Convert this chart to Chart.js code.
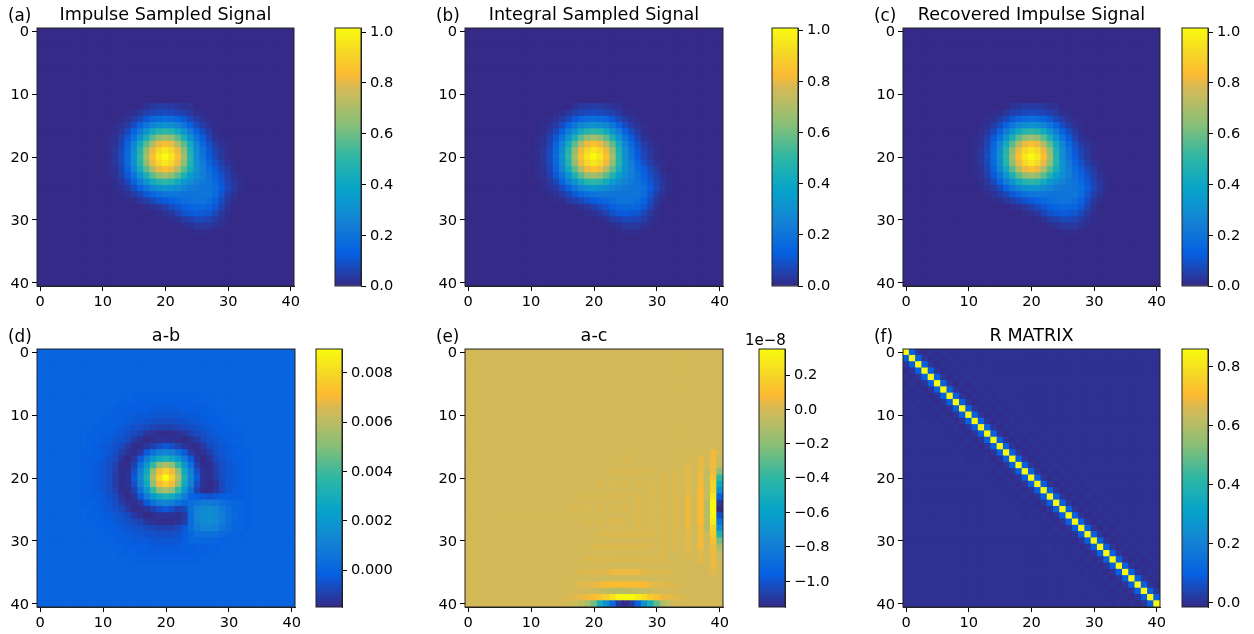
<!DOCTYPE html>
<html>
<head>
<meta charset="utf-8">
<title>Signal panels</title>
<script src="https://cdn.jsdelivr.net/npm/chart.js@4"></script>
<style>
  body { margin: 0; background: #fff; }
  canvas { position: absolute; }
</style>
</head>
<body>
<script>
const gridSize = 41;
const axisTicks = [0, 10, 20, 30, 40];

// sparse rows: row number -> [first column, values...], anything not listed is background
// (a) and (c), in hundredths
const impulseRows = {
  12: [17, 2,3,4,4,4,3,2,2],
  13: [14, 1,1,3,5,6,7,8,7,6,5,3,1,1],
  14: [13, 1,2,4,7,11,15,17,18,17,15,11,7,4,2,1],
  15: [12, 1,2,4,8,14,21,26,29,31,29,26,21,14,8,4,2,1],
  16: [12, 1,3,7,14,23,32,42,48,50,48,42,32,23,14,8,4,1],
  17: [11, 1,2,5,11,20,32,45,57,65,68,65,57,45,32,20,12,6,2,1],
  18: [11, 1,2,6,14,26,42,57,71,81,85,81,71,57,42,26,16,9,4,2,1],
  19: [11, 1,3,7,16,29,48,65,81,92,96,92,81,65,46,29,19,11,6,3,1],
  20: [11, 1,3,8,17,31,50,68,85,96,102,96,85,68,48,30,20,12,7,3,1],
  21: [11, 1,3,7,16,29,48,65,81,92,96,92,81,65,48,32,23,15,9,5,2,1],
  22: [11, 1,2,6,14,26,42,57,71,81,85,81,71,57,44,32,24,17,12,7,4,1],
  23: [11, 1,2,5,11,20,32,45,57,65,68,65,57,46,36,29,24,19,14,9,5,2,1],
  24: [12, 1,3,7,14,23,32,42,48,50,48,42,34,29,25,22,20,16,11,6,3,1],
  25: [12, 1,2,4,8,14,21,26,30,33,31,29,26,23,22,21,20,18,12,7,3,1],
  26: [13, 1,2,4,7,11,15,18,20,21,21,20,20,20,21,21,17,10,5,2],
  27: [14, 1,1,3,5,7,10,12,14,16,18,19,20,20,18,14,8,3,1],
  28: [17, 1,2,3,5,8,10,13,15,16,16,15,11,6,2],
  29: [19, 1,2,3,6,9,11,12,11,10,7,3,1],
  30: [21, 1,2,4,5,7,7,6,4,2,1],
  31: [23, 1,2,3,3,3,2,1],
  32: [25, 1,1,1]
};

// (b), in hundredths
const integralRows = {
  12: [17, 2,3,4,4,4,3,2,2],
  13: [14, 1,1,3,5,6,7,8,7,6,5,3,1,1],
  14: [13, 1,2,4,7,11,15,17,18,17,15,11,7,4,2,1],
  15: [12, 1,2,4,8,14,21,26,29,31,29,26,21,14,8,4,2,1],
  16: [12, 1,3,7,14,23,32,42,48,50,48,42,32,23,14,8,4,1],
  17: [11, 1,2,5,11,20,32,45,57,65,68,65,57,45,32,20,12,6,2,1],
  18: [11, 1,2,6,14,26,42,57,71,81,85,81,71,57,42,26,16,9,4,2,1],
  19: [11, 1,3,7,16,29,48,65,81,91,95,91,81,65,46,29,19,11,6,3,1],
  20: [11, 1,3,8,17,31,50,68,85,95,101,95,85,68,48,30,20,12,7,3,1],
  21: [11, 1,3,7,16,29,48,65,81,91,95,91,81,65,48,32,23,15,9,5,2,1],
  22: [11, 1,2,6,14,26,42,57,71,81,85,81,71,57,44,32,24,17,12,7,4,1],
  23: [11, 1,2,5,11,20,32,45,57,65,68,65,57,46,36,29,24,19,14,9,5,2,1],
  24: [12, 1,3,7,14,23,32,42,48,50,48,42,34,29,25,22,20,16,11,6,3,1],
  25: [12, 1,2,4,8,14,21,26,30,33,31,29,26,23,22,21,20,18,12,7,3,1],
  26: [13, 1,2,4,7,11,15,18,20,21,21,20,20,20,21,21,17,10,5,2],
  27: [14, 1,1,3,5,7,10,12,14,16,18,19,20,20,18,14,8,3,1],
  28: [17, 1,2,3,5,8,10,13,15,16,16,15,11,6,2],
  29: [19, 1,2,3,6,9,11,12,11,10,7,3,1],
  30: [21, 1,2,4,5,7,7,6,4,2,1],
  31: [23, 1,2,3,3,3,2,1],
  32: [25, 1,1,1]
};

// (d), in units of 1e-4
const diffBRows = {
  7: [15, -1,-1,-1,-1,-1,-1,-1,-1,-1,-1,-1],
  8: [13, -1,-1,-1,-2,-2,-2,-2,-2,-2,-2,-2,-2,-1,-1,-1],
  9: [12, -1,-1,-2,-2,-2,-2,-3,-3,-3,-3,-3,-2,-2,-2,-2,-1,-1],
  10: [11, -1,-1,-2,-2,-3,-3,-3,-4,-4,-4,-4,-4,-3,-3,-3,-2,-2,-1,-1],
  11: [10, -1,-1,-2,-2,-3,-4,-4,-5,-5,-6,-6,-6,-5,-5,-4,-4,-3,-2,-2,-1,-1],
  12: [9, -1,-1,-2,-2,-3,-4,-5,-6,-7,-8,-9,-9,-9,-8,-7,-6,-5,-4,-3,-2,-2,-1,-1],
  13: [8, -1,-1,-2,-2,-3,-4,-6,-7,-9,-12,-13,-14,-14,-14,-13,-12,-9,-7,-6,-4,-3,-2,-2,-1,-1],
  14: [8, -1,-1,-2,-3,-4,-5,-7,-11,-13,-15,-14,-13,-13,-13,-14,-15,-13,-11,-7,-5,-4,-3,-2,-1,-1],
  15: [8, -1,-2,-3,-4,-5,-7,-11,-14,-14,-12,-9,-6,-3,-6,-9,-12,-14,-14,-11,-7,-5,-4,-3,-2,-1],
  16: [7, -1,-1,-2,-3,-4,-6,-10,-13,-14,-11,-3,5,10,12,10,5,-3,-11,-14,-13,-10,-6,-4,-3,-2,-1,-1],
  17: [7, -1,-2,-2,-3,-5,-7,-12,-15,-12,-3,9,20,28,32,28,20,9,-3,-12,-15,-12,-7,-5,-3,-2,-2,-1],
  18: [7, -1,-2,-3,-4,-6,-9,-14,-14,-9,5,20,38,52,58,52,38,20,5,-9,-14,-14,-9,-6,-4,-3,-2,-1],
  19: [7, -1,-2,-3,-4,-6,-10,-14,-13,-6,10,28,52,70,78,70,52,28,10,-6,-13,-14,-10,-6,-4,-3,-2,-1],
  20: [7, -1,-2,-3,-4,-6,-10,-14,-13,-3,12,32,58,78,90,78,58,32,12,-3,-13,-14,-10,-6,-4,-3,-2,-1],
  21: [7, -1,-2,-3,-4,-6,-10,-14,-13,-6,10,28,52,70,78,70,52,28,10,-6,-13,-15,-13,-7,-4,-3,-2,-1],
  22: [7, -1,-2,-3,-4,-6,-9,-14,-14,-9,5,20,38,52,58,52,38,20,5,-9,-14,-14,-12,-7,-4,-3,-2,-1],
  23: [7, -1,-2,-2,-3,-5,-7,-12,-15,-12,-3,9,20,28,32,28,20,9,0,-1,-3,-5,-3,-2,-2,-2,-2,-1],
  24: [7, -1,-1,-2,-3,-4,-6,-10,-13,-14,-11,-3,5,10,12,10,5,1,4,6,8,8,7,5,2,1,0,-1],
  25: [8, -1,-2,-3,-4,-5,-7,-11,-14,-14,-12,-9,-6,-3,-6,-9,-7,5,11,14,15,13,8,4,1,0,-1],
  26: [8, -1,-1,-2,-3,-4,-5,-7,-11,-13,-15,-14,-13,-13,-13,-14,-11,3,12,15,15,14,9,4,2,0,-1],
  27: [8, -1,-1,-2,-2,-3,-4,-6,-7,-9,-12,-13,-14,-14,-14,-13,-10,3,11,14,15,13,9,4,1,0,-1],
  28: [9, -1,-1,-2,-2,-3,-4,-5,-6,-7,-8,-9,-9,-9,-7,-3,3,8,11,11,10,6,3,1,0,-1],
  29: [10, -1,-1,-2,-2,-3,-4,-4,-5,-5,-6,-6,-6,-5,-3,1,4,5,5,4,2,1,0,-1],
  30: [11, -1,-1,-2,-2,-3,-3,-3,-4,-4,-4,-4,-4,-2,1,1,1,1,0,-1],
  31: [12, -1,-1,-2,-2,-2,-2,-3,-3,-3,-3,-3,-2,-2,-1,-1,-1,-1],
  32: [13, -1,-1,-1,-2,-2,-2,-2,-2,-2,-2,-2,-2,-1,-1,-1],
  33: [15, -1,-1,-1,-1,-1,-1,-1,-1,-1,-1,-1]
};
const diffBRange = [-15, 89.7];
const diffBTicks = [0, 20, 40, 60, 80];

// (e), in units of 1e-10
const diffCRows = {
  16: [39, 6],
  17: [25, 2,0,0,0,0,0,0,0,0,0,0,0,4,0,6,-3],
  18: [35, 3,0,4,0,6,-6],
  19: [23, 2,0,2,0,2,0,2,0,0,0,2,0,3,0,4,-5,6,-20],
  20: [31, 2,0,2,0,3,-1,6,-5,12,-40],
  21: [21, 2,0,2,0,2,0,2,0,2,0,2,0,2,0,3,-1,6,-5,20,-55],
  22: [29, 2,0,2,0,2,0,3,-1,8,-5,20,-70],
  23: [19, 2,0,2,0,2,0,2,0,2,0,2,0,2,0,2,0,5,-1,8,-5,27,-95],
  24: [27, 2,0,2,0,2,0,2,0,5,-1,8,-8,35,-110],
  25: [17, 2,0,2,0,2,0,2,0,2,0,2,0,2,0,2,0,2,0,5,-1,8,-8,35,-115],
  26: [27, 2,0,2,0,2,0,2,0,5,-1,8,-8,35,-100],
  27: [19, 2,0,2,0,2,2,2,0,2,0,2,0,2,0,2,0,5,-1,8,-8,30,-85],
  28: [27, 2,0,2,0,2,0,2,0,5,-1,6,-8,20,-70],
  29: [21, 2,2,2,2,2,2,2,2,2,0,2,0,2,0,3,-1,6,-3,15,-45],
  30: [31, 2,0,2,0,3,-1,6,-3,10,-25],
  31: [20, 2,2,2,2,2,2,2,2,2,2,0,2,0,2,0,3,0,6,-3,5,-12],
  32: [31, 2,0,0,0,3,0,3,0,5,-5],
  33: [19, 2,2,2,2,2,2,2,2,2,2,2,2,2,0,0,0,0,0,3,0,5,-2],
  34: [23, -1,-1,-1,-1,-1,0,0,0,0,0,0,0,0,0,0,0,5],
  35: [18, 2,2,2,2,3,5,5,5,5,5,3,2,2,2,2,0,0,0,0,0,0,3],
  36: [21, -2,-2,-2,-2,-2,-2,-2,-2,-2],
  37: [17, 2,3,3,4,6,8,9,9,9,9,9,8,5,3,3,2,2],
  38: [19, -2,-3,-5,-6,-7,-8,-8,-7,-6,-5,-3,-2],
  39: [16, 2,3,4,6,10,13,18,26,33,35,35,30,24,16,11,5,4,3,2],
  40: [17, -2,-6,-12,-25,-50,-70,-90,-110,-115,-110,-95,-70,-50,-30,-12,-5]
};
const diffCRange = [-115, 35.2];
const diffCTicks = [-100, -80, -60, -40, -20, 0, 20];

// (f), value by distance from the diagonal, in hundredths
const rBands = [86, 10, 1, -1, 0.4, -0.6, 0.2, -0.3, 0.1];
const rRange = [-1.36, 86.1];
const rTicks = [0, 20, 40, 60, 80];

const unitTicks = [0, 20, 40, 60, 80, 100];

const parulaPositions = [0, 0.125, 0.25, 0.375, 0.5, 0.625, 0.75, 0.77, 0.82, 0.9, 1];
const parulaColours = [
  [53, 42, 135], [6, 95, 225], [20, 130, 212], [6, 164, 202], [46, 183, 164],
  [135, 191, 119], [205, 187, 92], [213, 185, 85], [253, 186, 50], [245, 214, 40], [249, 251, 14]
];

const parula = (t) => {
  const f = Math.min(1, Math.max(0, t));
  let i = 0;
  while (i < parulaPositions.length - 2 && f > parulaPositions[i + 1]) i++;
  const k = (f - parulaPositions[i]) / (parulaPositions[i + 1] - parulaPositions[i]);
  const c = parulaColours[i].map((v, n) => Math.round(v + (parulaColours[i + 1][n] - v) * k));
  return `rgb(${c[0]}, ${c[1]}, ${c[2]})`;
};

// sparse rows to x/y cells
const cellsFromRows = (rows) => {
  const cells = [];
  for (let y = 0; y < gridSize; y++) {
    const row = rows[y] || [0];
    for (let x = 0; x < gridSize; x++) {
      const v = x >= row[0] ? row[x - row[0] + 1] : undefined;
      cells.push({ x, y, v: v === undefined ? 0 : v });
    }
  }
  return cells;
};

const cellsFromBands = (bands) => {
  const cells = [];
  for (let y = 0; y < gridSize; y++) {
    for (let x = 0; x < gridSize; x++) {
      const v = bands[Math.abs(x - y)];
      cells.push({ x, y, v: v === undefined ? 0 : v });
    }
  }
  return cells;
};

const tickFont = { family: '"DejaVu Sans"', size: 14.6 };

// box round the plot, tag and offset text
const framePlugin = {
  id: 'frame',
  afterDraw(chart, args, opts) {
    const { left, top, width, height } = chart.chartArea;
    const ctx = chart.ctx;
    ctx.save();
    ctx.strokeStyle = '#222';
    ctx.lineWidth = 1;
    ctx.strokeRect(left, top, width, height);
    ctx.fillStyle = '#000';
    ctx.font = '16.8px "DejaVu Sans"';
    if (opts.tag) ctx.fillText(opts.tag, 8, 21);
    ctx.font = '15px "DejaVu Sans"';
    if (opts.offset) ctx.fillText(opts.offset, left - 14, top - 4);
    ctx.restore();
  },
};

const drawHeatmap = (panel) => {
  const canvas = document.createElement('canvas');
  const gutter = { left: 37, top: 28, right: 12, bottom: 26 };
  canvas.width = gutter.left + panel.width + gutter.right;
  canvas.height = gutter.top + panel.height + gutter.bottom;
  canvas.style.left = `${panel.x - gutter.left}px`;
  canvas.style.top = `${panel.y - gutter.top}px`;
  document.body.appendChild(canvas);

  const [min, max] = panel.range;
  const axis = {
    type: 'linear',
    min: -0.5,
    max: gridSize - 0.5,
    afterBuildTicks: (scale) => { scale.ticks = axisTicks.map((value) => ({ value })); },
    grid: { drawOnChartArea: false, drawTicks: true, tickLength: 5, color: '#000' },
    border: { color: '#222' },
  };
  const tickStyle = { font: tickFont, color: '#000', autoSkip: false, maxRotation: 0, callback: (v) => String(v) };

  new Chart(canvas, {
    type: 'scatter',
    data: {
      datasets: [{
        data: panel.cells,
        pointStyle: 'rect',
        pointRadius: 5,
        pointBorderWidth: 0,
        clip: 0,
        backgroundColor: panel.cells.map((c) => parula((c.v - min) / (max - min))),
      }],
    },
    options: {
      responsive: false,
      animation: false,
      layout: { autoPadding: false, padding: { right: gutter.right } },
      scales: {
        x: {
          ...axis,
          position: 'bottom',
          ticks: { ...tickStyle, padding: 2 },
          afterFit: (scale) => { scale.height = gutter.bottom; },
        },
        y: {
          ...axis,
          reverse: true,
          ticks: { ...tickStyle, padding: 3, labelOffset: 1.5 },
          afterFit: (scale) => { scale.width = gutter.left; },
        },
      },
      plugins: {
        legend: { display: false },
        tooltip: { enabled: false },
        title: {
          display: true,
          text: panel.title,
          fullSize: false,
          color: '#000',
          font: { family: '"DejaVu Sans"', size: 17.6, weight: 'normal', lineHeight: 1.2 },
          padding: { top: 4.5, bottom: 2.4 },
        },
        frame: { tag: panel.tag },
      },
    },
    plugins: [framePlugin],
  });
};

const drawColourbar = (panel) => {
  const canvas = document.createElement('canvas');
  // the bottom gutter has to stay taller than half a tick label or the layout eats into the bar
  const gutter = { top: 28, right: 60, bottom: 20 };
  canvas.width = panel.barWidth + gutter.right + 20;
  canvas.height = gutter.top + panel.height + gutter.bottom;
  canvas.style.left = `${panel.barX - 20}px`;
  canvas.style.top = `${panel.y - gutter.top}px`;
  document.body.appendChild(canvas);

  const [min, max] = panel.range;
  const fill = (ctx) => {
    const area = ctx.chart.chartArea;
    if (!area) return '#000';
    const g = ctx.chart.ctx.createLinearGradient(0, area.bottom, 0, area.top);
    for (let i = 0; i <= 64; i++) g.addColorStop(i / 64, parula(i / 64));
    return g;
  };

  new Chart(canvas, {
    type: 'bar',
    data: {
      labels: [''],
      datasets: [{ data: [[min, max]], backgroundColor: fill, barPercentage: 1, categoryPercentage: 1 }],
    },
    options: {
      responsive: false,
      animation: false,
      layout: { autoPadding: false, padding: { left: 20, top: gutter.top, bottom: gutter.bottom } },
      scales: {
        x: { display: false },
        y: {
          position: 'right',
          min,
          max,
          afterBuildTicks: (scale) => { scale.ticks = panel.ticks.map((value) => ({ value })); },
          afterFit: (scale) => { scale.width = gutter.right; },
          grid: { drawOnChartArea: false, tickLength: 5, color: '#000' },
          border: { color: '#222' },
          ticks: { font: tickFont, color: '#000', padding: 4, labelOffset: 0.5, autoSkip: false, callback: panel.label },
        },
      },
      plugins: {
        legend: { display: false },
        tooltip: { enabled: false },
        frame: { offset: panel.offset },
      },
    },
    plugins: [framePlugin],
  });
};

const fixed = (scale, digits) => (v) => (v * scale).toFixed(digits).replace('-', '\u2212');

const panels = [
  { tag: '(a)', title: 'Impulse Sampled Signal', x: 37, y: 28, width: 257, height: 258, cells: cellsFromRows(impulseRows), range: [0, 101.6], barX: 335, barWidth: 26, ticks: unitTicks, label: fixed(0.01, 1) },
  { tag: '(b)', title: 'Integral Sampled Signal', x: 465, y: 28, width: 258, height: 258, cells: cellsFromRows(integralRows), range: [0, 100.8], barX: 772, barWidth: 26, ticks: unitTicks, label: fixed(0.01, 1) },
  { tag: '(c)', title: 'Recovered Impulse Signal', x: 903, y: 28, width: 257, height: 258, cells: cellsFromRows(impulseRows), range: [0, 101.6], barX: 1182, barWidth: 26, ticks: unitTicks, label: fixed(0.01, 1) },
  { tag: '(d)', title: 'a-b', x: 37, y: 349, width: 258, height: 258, cells: cellsFromRows(diffBRows), range: diffBRange, barX: 316, barWidth: 26, ticks: diffBTicks, label: fixed(0.0001, 3) },
  { tag: '(e)', title: 'a-c', x: 465, y: 349, width: 258, height: 258, cells: cellsFromRows(diffCRows), range: diffCRange, barX: 759, barWidth: 26, ticks: diffCTicks, label: fixed(0.01, 1), offset: '1e\u22128' },
  { tag: '(f)', title: 'R MATRIX', x: 903, y: 349, width: 257, height: 258, cells: cellsFromBands(rBands), range: rRange, barX: 1182, barWidth: 26, ticks: rTicks, label: fixed(0.01, 1) },
];

panels.forEach((panel) => {
  drawHeatmap(panel);
  drawColourbar(panel);
});
</script>
</body>
</html>
